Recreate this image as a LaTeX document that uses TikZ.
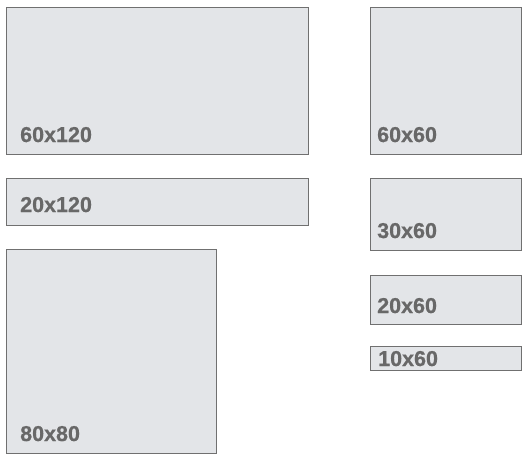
\documentclass[tikz,border=0pt]{standalone}
\usepackage{fontspec}
\setsansfont{Liberation Sans}
\newfontface\sizeface{Liberation Sans Bold}[FakeBold=0.7]
\usepackage{tikz}
\usetikzlibrary{positioning}
\definecolor{boxfill} {HTML}{E3E5E8}
\definecolor{boxline} {HTML}{707070}
\definecolor{lbltext} {HTML}{686868}
\tikzset{
  % --- nodes
  slot/.style = {rectangle, draw=boxline, fill=boxfill, line width=0.8pt,
                 inner sep=0pt, outer sep=0pt, anchor=north west},
  size/.style = {font=\sizeface\fontsize{21.5}{23}\selectfont,
                 text=lbltext, inner sep=0pt, anchor=base west},
}
\begin{document}
\begin{tikzpicture}[x=1pt,y=-1pt]
  \useasboundingbox (0,0) rectangle (529,458);

  \node[slot, minimum width=302pt, minimum height=147pt] (b60x120) at (6,7) {};
  \node[slot, minimum width=302pt, minimum height=47pt]  (b20x120) at (6,178) {};
  \node[slot, minimum width=210pt, minimum height=204pt] (b80x80)  at (6,249) {};

  \node[slot, minimum width=151pt, minimum height=147pt] (b60x60) at (370,7) {};
  \node[slot, minimum width=151pt, minimum height=72pt]  (b30x60) at (370,178) {};
  \node[slot, minimum width=151pt, minimum height=49pt]  (b20x60) at (370,275) {};
  \node[slot, minimum width=151pt, minimum height=24pt]  (b10x60) at (370,346) {};

  \node[size] (l60x120) at ([xshift=14pt,yshift=12pt]b60x120.south west) {60x120};
  \node[size] (l20x120) at ([xshift=14pt,yshift=13pt]b20x120.south west) {20x120};
  \node[size] (l80x80)  at ([xshift=14pt,yshift=12pt]b80x80.south west) {80x80};
  \node[size] (l60x60)  at ([xshift=7pt,yshift=12pt]b60x60.south west) {60x60};
  \node[size] (l30x60)  at ([xshift=7pt,yshift=12pt]b30x60.south west) {30x60};
  \node[size] (l20x60)  at ([xshift=7pt,yshift=11pt]b20x60.south west) {20x60};
  \node[size] (l10x60)  at ([xshift=8pt,yshift=4pt]b10x60.south west) {10x60};
\end{tikzpicture}
\end{document}
